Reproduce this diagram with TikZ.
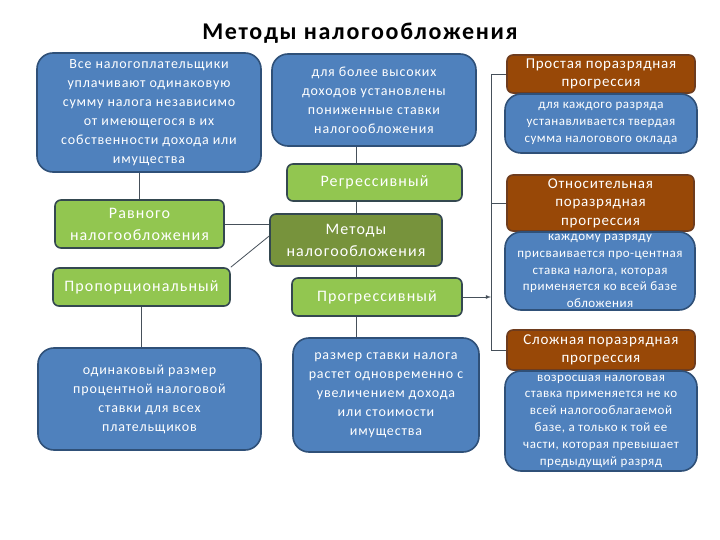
\documentclass[tikz,border=0pt]{standalone}
\usepackage{fontspec}
\setmainfont{Carlito}
\begin{document}
\begin{tikzpicture}[x=1pt,y=-1pt,
    box/.style={draw=myedge, line width=1.6pt, align=center, text=white,
        inner sep=2pt},
    bluebox/.style={box, fill=myblue, draw=myblueedge, rounded corners=16pt,
        font=\fontsize{14}{19}\selectfont\addfontfeature{LetterSpace=6}},
    smallblue/.style={bluebox, inner ysep=0pt,
        font=\fontsize{13}{16.8}\selectfont\addfontfeature{LetterSpace=4}},
    greenbox/.style={box, fill=mygreen, rounded corners=6pt,
        font=\fontsize{16}{22}\selectfont\addfontfeature{LetterSpace=7}},
    brownbox/.style={box, fill=mybrown, draw=mybrownedge, rounded corners=6pt,
        inner ysep=0pt,
        font=\fontsize{15}{18.5}\selectfont\addfontfeature{LetterSpace=5}},
    link/.style={draw=mylink, line width=0.8pt}]
    \definecolor{myblue}{RGB}{79,129,189}
    \definecolor{myblueedge}{RGB}{47,80,120}
    \definecolor{mygreen}{RGB}{146,198,80}
    \definecolor{myolive}{RGB}{119,147,60}
    \definecolor{mybrown}{RGB}{152,72,7}
    \definecolor{mybrownedge}{RGB}{110,60,30}
    \definecolor{myedge}{RGB}{52,72,80}
    \definecolor{mylink}{RGB}{70,80,90}

    \useasboundingbox[fill=white] (0,0) rectangle (720,540);

    \node[font=\fontsize{24}{28}\selectfont\bfseries\addfontfeature{LetterSpace=7}]
        (title) at (360,33) {Методы налогообложения};

    % left column
    \node[bluebox, minimum width=224pt, minimum height=119pt] (eqtext) at (149,112.5)
        {Все налогоплательщики\\уплачивают одинаковую\\сумму налога независимо\\от имеющегося в их\\собственности дохода или\\имущества};
    \node[greenbox, minimum width=169pt, minimum height=48pt] (equal) at (139.5,224)
        {Равного\\налогообложения};
    \node[greenbox, minimum width=177pt, minimum height=38pt] (prop) at (141.5,287)
        {Пропорциональный};
    \node[bluebox, minimum width=223pt, minimum height=102pt] (proptext) at (149.5,399)
        {одинаковый размер\\процентной налоговой\\ставки для всех\\плательщиков};

    % middle column
    \node[bluebox, minimum width=204pt, minimum height=92pt] (regtext) at (374,100)
        {для более высоких\\доходов установлены\\пониженные ставки\\налогообложения};
    \node[greenbox, minimum width=175pt, minimum height=37pt] (regr) at (374.5,182.5)
        {Регрессивный};
    \node[greenbox, fill=myolive, minimum width=172pt, minimum height=52pt] (methods) at (356,240)
        {Методы\\налогообложения};
    \node[greenbox, minimum width=170pt, minimum height=38pt] (progr) at (377,297)
        {Прогрессивный};
    \node[bluebox, minimum width=186pt, minimum height=114pt] (progtext) at (386,395)
        {размер ставки налога\\растет одновременно с\\увеличением дохода\\или стоимости\\имущества};

    % right column
    \node[brownbox, minimum width=188pt, minimum height=38pt] (simple) at (601,74)
        {Простая поразрядная\\прогрессия};
    \node[smallblue, minimum width=192pt, minimum height=59pt] (simpletext) at (601,123.5)
        {для каждого разряда\\устанавливается твердая\\сумма налогового оклада};
    \node[brownbox, minimum width=187pt, minimum height=56pt] (rel) at (600.5,203)
        {Относительная\\поразрядная\\прогрессия};
    \node[smallblue, minimum width=190pt, minimum height=78pt] (reltext) at (600,271)
        {каждому разряду\\присваивается про-центная\\ставка налога, которая\\применяется ко всей базе\\обложения};
    \node[brownbox, minimum width=188pt, minimum height=40pt] (comp) at (601,350)
        {Сложная поразрядная\\прогрессия};
    \node[smallblue, minimum width=192pt, minimum height=100pt] (comptext) at (601,421)
        {возросшая налоговая\\ставка применяется не ко\\всей налогооблагаемой\\базе, а только к той ее\\части, которая превышает\\предыдущий разряд};

    \coordinate (bar) at (491,74);

    % connectors
    \draw[link] (equal.north) -- (equal.north |- eqtext.south);
    \draw[link] (prop.south) -- (prop.south |- proptext.north);
    \draw[link] (equal.east) -- (equal.east -| methods.west);
    \draw[link] (prop.north east) -- ([yshift=4pt]methods.west);
    \draw[link] (methods.north) -- (methods.north |- regr.south);
    \draw[link] (methods.north |- regr.north) -- (methods.north |- regtext.south);
    \draw[link] (methods.south) -- (methods.south |- progr.north);
    \draw[link] (methods.south |- progr.south) -- (methods.south |- progtext.north);
    \draw[link] (simple.west) -- (simple.west -| bar) -- (comp.west -| bar) -- (comp.west);
    \draw[link] (rel.west) -- (rel.west -| bar);
    \draw[link, -latex] (progr.east) -- (progr.east -| bar);
\end{tikzpicture}
\end{document}
